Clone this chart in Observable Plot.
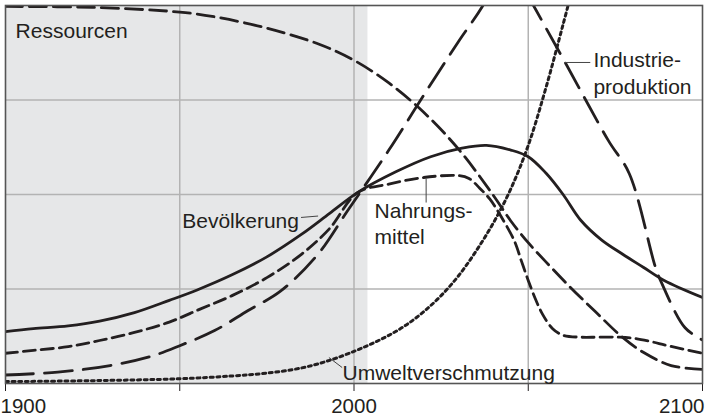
<!DOCTYPE html>
<html>
<head>
<meta charset="utf-8">
<script src="https://cdn.jsdelivr.net/npm/d3@7"></script>
<script src="https://cdn.jsdelivr.net/npm/@observablehq/plot@0.6"></script>
<style>
  html, body { margin: 0; padding: 0; background: #ffffff; }
  #chart { width: 711px; height: 420px; }
</style>
</head>
<body>
<div id="chart"></div>
<script>
// ---- data (values in grid units: 0 = bottom, 4 = top of the frame) ----
const popYears   = [1900, 1908, 1918, 1927, 1937, 1947, 1955, 1965, 1975, 1985, 1993, 2001, 2012, 2022, 2031, 2038, 2045, 2050, 2055, 2060, 2065, 2071, 2077, 2083, 2089, 2100];
const popValues  = [0.55, 0.58, 0.61, 0.66, 0.75, 0.88, 0.99, 1.15, 1.34, 1.58, 1.80, 2.02, 2.24, 2.40, 2.49, 2.52, 2.47, 2.40, 2.23, 2.00, 1.73, 1.52, 1.37, 1.23, 1.09, 0.91];

const foodYears  = [1900, 1908, 1918, 1927, 1937, 1947, 1956, 1965, 1975, 1985, 1993, 2001, 2010, 2020, 2030, 2033, 2036, 2039, 2042, 2046, 2048, 2050, 2052, 2054, 2057, 2060, 2065, 2070, 2076, 2080, 2085, 2090, 2100];
const foodValues = [0.32, 0.35, 0.39, 0.455, 0.54, 0.65, 0.79, 0.93, 1.12, 1.37, 1.64, 2.02, 2.11, 2.18, 2.20, 2.17, 2.07, 1.95, 1.78, 1.51, 1.30, 1.09, 0.90, 0.74, 0.58, 0.51, 0.49, 0.49, 0.49, 0.48, 0.445, 0.40, 0.32];

const resYears   = [1900, 1925, 1950, 1960, 1975, 1990, 2000, 2010, 2020, 2030, 2040, 2045, 2050, 2055, 2062, 2069, 2077, 2083, 2091, 2100];
const resValues  = [3.99, 3.98, 3.93, 3.88, 3.76, 3.59, 3.42, 3.18, 2.87, 2.48, 1.99, 1.72, 1.49, 1.29, 1.02, 0.77, 0.49, 0.33, 0.19, 0.15];

const indYears   = [1900, 1915, 1930, 1942, 1950, 1960, 1969.5, 1979, 1989.7, 1998.2, 2010, 2020, 2030, 2037, 2044, 2051.5, 2061, 2073, 2079, 2086.5, 2088.2, 2095, 2100];
const indValues  = [0.09, 0.12, 0.19, 0.29, 0.40, 0.56, 0.77, 0.98, 1.37, 1.83, 2.47, 3.05, 3.62, 4.00, 4.50, 4.00, 3.37, 2.57, 2.22, 1.23, 1.07, 0.59, 0.46];

const polYears   = [1900, 1925, 1950, 1965, 1975, 1985, 1993, 2000, 2005, 2010, 2015, 2020, 2025, 2030, 2035, 2040, 2045, 2050, 2055, 2060, 2063];
const polValues  = [0.02, 0.03, 0.05, 0.08, 0.11, 0.165, 0.245, 0.34, 0.42, 0.51, 0.62, 0.76, 0.93, 1.14, 1.40, 1.70, 2.06, 2.52, 3.12, 3.80, 4.22];

const shadeFrom = 1900, shadeTo = 2004;
const gridYears  = [1950, 2000, 2050];
const gridValues = [1, 2, 3];
const tickYears  = [1900, 1950, 2000, 2050, 2100];
const tickLabels = ["1900", "", "2000", "", "2100"];

const labelTexts  = ["Ressourcen", "Bevölkerung", "Nahrungs-\nmittel", "Industrie-\nproduktion", "Umweltverschmutzung"];
const labelYears  = [1902.9, 1950.7, 2005.9, 2068.7, 1996.7];
const labelValues = [3.857, 1.841, 1.953, 3.543, 0.233];

const leaderYear1  = [1984.8, 2020.7, 2060.3, 1992.8];
const leaderYear2  = [1989.7, 2020.7, 2067.8, 1996.6];
const leaderValue1 = [1.757, 2.169, 3.397, 0.275];
const leaderValue2 = [1.772, 1.915, 3.397, 0.169];

// ---- build ----
const ink = "#231f20";
const font = "'Liberation Sans', Arial, Helvetica, sans-serif";
const rows = (ys, vs) => ys.map((x, i) => ({x, y: vs[i]}));
const labels = labelTexts.map((t, i) => ({t, x: labelYears[i], y: labelValues[i]}));
const leaders = leaderYear1.map((x1, i) => ({x1, x2: leaderYear2[i], y1: leaderValue1[i], y2: leaderValue2[i]}));
const tickRows = tickYears.map((x, i) => ({x, t: tickLabels[i], i})).filter(d => d.t);
const lastTick = tickYears.length - 1;

const lineOpts = {x: "x", y: "y", curve: "catmull-rom", stroke: ink, clip: true};

const chart = Plot.plot({
  width: 711,
  height: 420,
  marginLeft: 5,
  marginRight: 9,
  marginTop: 5,
  marginBottom: 37,
  style: {fontFamily: font, color: ink, background: "#ffffff"},
  x: {domain: [1900, 2100], ticks: tickYears, tickSize: 8, tickFormat: () => "", label: null},
  y: {domain: [0, 4], axis: null},
  marks: [
    Plot.rect([{x1: shadeFrom, x2: shadeTo}], {x1: "x1", x2: "x2", y1: 0, y2: 4, fill: "#e6e7e8"}),
    Plot.ruleX(gridYears, {stroke: "#b3b3b3", strokeWidth: 1.5}),
    Plot.ruleY(gridValues, {stroke: "#b3b3b3", strokeWidth: 1.5}),
    Plot.line(rows(resYears, resValues), {...lineOpts, strokeWidth: 2.8, strokeDasharray: "17,7"}),
    Plot.line(rows(indYears, indValues), {...lineOpts, strokeWidth: 2.8, strokeDasharray: "28,11"}),
    Plot.line(rows(foodYears, foodValues), {...lineOpts, strokeWidth: 2.8, strokeDasharray: "12,6"}),
    Plot.line(rows(polYears, polValues), {...lineOpts, strokeWidth: 3, strokeDasharray: "3,3.6"}),
    Plot.line(rows(popYears, popValues), {...lineOpts, strokeWidth: 2.8}),
    Plot.frame({stroke: "#555555", strokeWidth: 1.6}),
    Plot.link(leaders, {x1: "x1", x2: "x2", y1: "y1", y2: "y2", stroke: "#444444", strokeWidth: 1}),
    Plot.text(labels, {x: "x", y: "y", text: "t", textAnchor: "start", lineAnchor: "top", lineHeight: 1.26, fontSize: 21, fill: ink}),
    Plot.text(tickRows.filter(d => d.i === 0), {x: "x", text: "t", frameAnchor: "bottom", textAnchor: "start", lineAnchor: "top", dy: 15, dx: -5, fontSize: 20.5, fill: ink}),
    Plot.text(tickRows.filter(d => d.i > 0 && d.i < lastTick), {x: "x", text: "t", frameAnchor: "bottom", textAnchor: "middle", lineAnchor: "top", dy: 15, fontSize: 20.5, fill: ink}),
    Plot.text(tickRows.filter(d => d.i === lastTick), {x: "x", text: "t", frameAnchor: "bottom", textAnchor: "end", lineAnchor: "top", dy: 15, dx: 2, fontSize: 20.5, fill: ink})
  ]
});
document.getElementById("chart").appendChild(chart);
</script>
</body>
</html>
